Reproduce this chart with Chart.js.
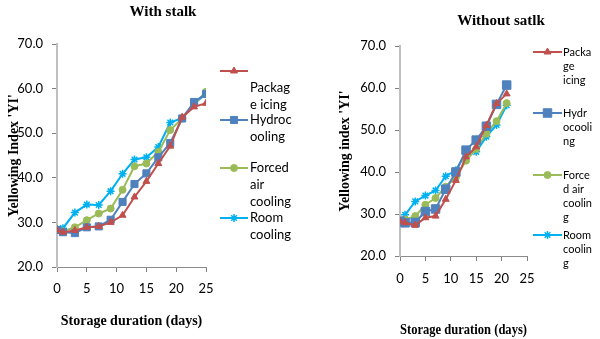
<!DOCTYPE html>
<html>
<head>
<meta charset="utf-8">
<script src="https://cdn.jsdelivr.net/npm/chart.js@4"></script>
<style>
  body { margin: 0; background: #fff; width: 600px; height: 339px; position: relative; overflow: hidden; }
  canvas { position: absolute; top: 0; }
  #stalk { left: 0; }
  #nostalk { left: 300px; }
</style>
</head>
<body>
<canvas id="stalk" width="300" height="339"></canvas>
<canvas id="nostalk" width="300" height="339"></canvas>
<script>
// series styling shared by both panels
const seriesColors = ['#C0504D', '#4F81BD', '#9BBB59', '#00B0F0'];
const seriesMarkers = ['triangle', 'rect', 'circle', 'star'];

// With stalk
const daysStalk = [0, 1, 3, 5, 7, 9, 11, 13, 15, 17, 19, 21, 23, 25];
const stalkPackageIcing = [28.3, 27.8, 28.2, 28.9, 29.1, 30.0, 31.6, 35.7, 39.2, 43.2, 47.1, 53.6, 55.9, 56.7];
const stalkHydrocooling = [28.3, 27.8, 27.6, 28.9, 29.1, 30.6, 34.6, 38.6, 41.0, 44.6, 47.8, 53.3, 57.0, 58.8];
const stalkForcedAir = [28.3, 28.0, 28.9, 30.5, 32.0, 33.1, 37.3, 42.6, 43.2, 45.8, 50.7, 53.3, 56.5, 59.3];
const stalkRoom = [28.5, 28.7, 32.2, 34.0, 33.9, 37.0, 40.9, 44.1, 44.6, 46.9, 52.4, 53.4, 56.6, 58.8];
const stalkLegend = [['', 'Packag', 'e icing'], ['Hydroc', 'ooling'], ['Forced', 'air', 'cooling'], ['Room', 'cooling']];

// Without stalk
const daysNoStalk = [0, 1, 3, 5, 7, 9, 11, 13, 15, 17, 19, 21];
const noStalkPackageIcing = [28.3, 27.9, 27.3, 29.1, 29.5, 33.5, 38.0, 43.6, 46.0, 51.1, 56.3, 58.6];
const noStalkHydrocooling = [28.3, 27.9, 28.0, 30.6, 31.2, 35.9, 40.0, 45.2, 47.6, 50.9, 56.1, 60.7];
const noStalkForcedAir = [28.3, 28.7, 29.5, 32.2, 33.8, 36.5, 38.7, 42.7, 45.5, 49.1, 52.1, 56.4];
const noStalkRoom = [28.3, 29.8, 33.0, 34.4, 35.6, 39.0, 40.4, 44.6, 44.8, 48.4, 51.2, 55.9];
const noStalkLegend = [['Packa', 'ge', 'icing'], ['Hydr', 'ocooli', 'ng'], ['Force', 'd air', 'coolin', 'g'], ['Room', 'coolin', 'g']];

const xTicks = [0, 5, 10, 15, 20, 25];
const yTicks = [20, 30, 40, 50, 60, 70];

const decorPlugin = {
  id: 'decor',
  afterDraw: function (chart, args, opts) {
    const ctx = chart.ctx;
    ctx.save();
    ctx.fillStyle = '#000';
    ctx.font = 'bold 15px "Liberation Serif", serif';
    ctx.textAlign = 'center';
    ctx.textBaseline = 'middle';
    ctx.fillText(opts.title, opts.titleX, opts.titleY);

    const lg = opts.legend;
    ctx.font = lg.font;
    ctx.textAlign = 'left';
    chart.data.datasets.forEach(function (ds, i) {
      const y0 = lg.rows[i];
      ctx.strokeStyle = ds.borderColor;
      ctx.lineWidth = 2;
      ctx.beginPath();
      ctx.moveTo(lg.x, y0);
      ctx.lineTo(lg.x + lg.w, y0);
      ctx.stroke();
      ctx.fillStyle = ds.backgroundColor;
      ctx.lineWidth = ds.pointBorderWidth;
      Chart.helpers.drawPoint(ctx, { pointStyle: ds.pointStyle, radius: ds.pointRadius, rotation: 0, borderWidth: ds.pointBorderWidth }, lg.x + lg.w / 2, y0);
      ctx.fillStyle = '#000';
      lg.labels[i].forEach(function (t, k) {
        ctx.fillText(t, lg.textX, y0 + k * lg.lineH);
      });
    });
    ctx.restore();
  }
};

function buildChart(id, days, series, cfg) {
  const datasets = series.map(function (vals, i) {
    return {
      data: days.map(function (d, j) { return { x: d, y: vals[j] }; }),
      borderColor: seriesColors[i],
      backgroundColor: seriesColors[i],
      borderWidth: 2,
      pointStyle: seriesMarkers[i],
      pointRadius: seriesMarkers[i] === 'rect' ? cfg.rectR : (seriesMarkers[i] === 'circle' ? 3.5 : 4),
      pointBorderWidth: seriesMarkers[i] === 'star' ? 1.5 : 1,
      tension: 0,
    };
  });

  return new Chart(document.getElementById(id), {
    type: 'line',
    data: { datasets: datasets },
    options: {
      responsive: false,
      animation: false,
      layout: { padding: { top: cfg.top, right: cfg.right, left: 0, bottom: 0 } },
      plugins: {
        legend: { display: false },
        tooltip: { enabled: false },
        decor: { title: cfg.title, titleX: cfg.titleX, titleY: cfg.titleY, legend: cfg.legend },
      },
      scales: {
        x: {
          type: 'linear',
          min: 0, max: 25,
          afterBuildTicks: function (s) { s.ticks = xTicks.map(function (v) { return { value: v }; }); },
          afterFit: function (s) { s.height = cfg.xHeight; },
          grid: { drawOnChartArea: false, tickLength: 5, tickColor: '#7f7f7f' },
          border: { color: '#8c8c8c', width: 1 },
          ticks: { color: '#000', padding: cfg.xPad, maxRotation: 0, font: { family: 'Lato', size: 13 } },
          title: { display: true, text: 'Storage duration (days)', color: '#000', padding: { top: 0, bottom: cfg.xTitlePad }, font: { family: '"Liberation Serif", serif', size: 14, weight: 'bold' } },
        },
        y: {
          min: 20, max: 70,
          afterBuildTicks: function (s) { s.ticks = yTicks.map(function (v) { return { value: v }; }); },
          afterFit: function (s) { s.width = cfg.yWidth; },
          grid: { drawOnChartArea: false, tickLength: 5, tickColor: '#7f7f7f' },
          border: { color: '#bfbfbf', width: 2 },
          ticks: { color: '#000', padding: 9, font: { family: 'Lato', size: cfg.yFont }, callback: function (v) { return Number(v).toFixed(1); } },
          title: { display: true, text: cfg.yTitle, color: '#000', padding: { top: cfg.yTitlePad, bottom: 0 }, font: { family: '"Liberation Serif", serif', size: 14, weight: 'bold' } },
        },
      },
    },
    plugins: [decorPlugin],
  });
}

buildChart('stalk', daysStalk, [stalkPackageIcing, stalkHydrocooling, stalkForcedAir, stalkRoom], {
  top: 44, right: 94, xHeight: 72, yWidth: 57, xPad: 9, xTitlePad: 9, yTitlePad: 6, yFont: 13, rectR: 5,
  yTitle: "Yellowing Index 'YI'",
  title: 'With stalk', titleX: 163, titleY: 12,
  legend: { x: 220, w: 28, textX: 250, rows: [71, 120, 168, 218], lineH: 17, font: '13px Lato', labels: stalkLegend },
});

buildChart('nostalk', daysNoStalk, [noStalkPackageIcing, noStalkHydrocooling, noStalkForcedAir, noStalkRoom], {
  top: 46, right: 73, xHeight: 83, yWidth: 100, xPad: 10, xTitlePad: 0, yTitlePad: 37, yFont: 13, rectR: 6,
  yTitle: "Yellowing index 'YI'",
  title: 'Without satlk', titleX: 201, titleY: 21,
  legend: { x: 233, w: 29, textX: 263, rows: [52, 113, 175, 235], lineH: 14, font: '11px Lato', labels: noStalkLegend },
});
</script>
</body>
</html>
